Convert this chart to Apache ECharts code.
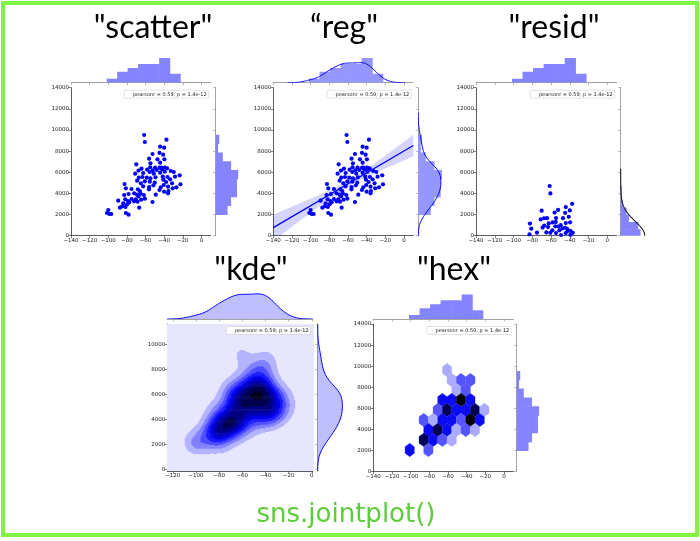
<!DOCTYPE html>
<html>
<head>
<meta charset="utf-8">
<script src="https://cdn.jsdelivr.net/npm/echarts@6.0.0/dist/echarts.min.js"></script>
<style>html,body{margin:0;padding:0;background:#fff;}#chart{width:700px;height:541px;}</style>
</head>
<body>
<div id="chart"></div>
<script>
// ---------------- data ----------------
const titles = ['"scatter"', '\u201creg"', '"resid"', '"kde"', '"hex"'];
const footerText = 'sns.jointplot()';
const statText = 'pearsonr = 0.59; p = 1.4e-12';

const xs = [-61.5,-60.7,-37.5,-44.3,-40.0,-45.0,-52.5,-41.1,-56.2,-47.2,
  -39.7,-44.3,-70.0,-54.7,-55.0,-49.7,-44.9,-42.9,-39.3,-36.8,
  -64.3,-67.5,-58.3,-52.2,-47.9,-42.2,-32.9,-29.7,-71.1,-62.5,
  -55.4,-51.1,-44.3,-39.3,-28.3,-23.3,-67.2,-63.2,-58.6,-54.7,
  -49.3,-41.5,-36.5,-33.6,-69.0,-60.7,-55.4,-50.0,-40.8,-37.9,
  -31.5,-22.5,-82.5,-65.0,-62.5,-56.1,-51.5,-43.6,-40.4,-35.8,
  -26.8,-81.1,-75.0,-68.2,-66.1,-56.3,-45.0,-40.0,-35.4,-30.8,
  -78.2,-72.2,-69.0,-65.4,-61.8,-49.0,-35.8,-82.9,-89.3,-81.8,
  -78.8,-75.0,-70.4,-67.5,-64.7,-60.7,-83.9,-79.7,-77.5,-72.2,
  -68.6,-52.5,-87.5,-85.0,-81.5,-66.8,-100.0,-101.4,-98.9,-96.8,
  -81.1,-78.2];
const ys = [9525,8863,9084,8422,8327,7840,7728,7665,7286,7223,
  7223,6908,6750,6845,6467,6435,6435,6435,6435,6372,
  6341,6165,6246,6170,6214,6278,6120,6025,5868,5931,
  6025,5868,5962,6057,5584,5710,5489,5552,5489,5426,
  5521,5584,5552,5332,5205,5142,5111,5016,5300,5079,
  4953,4859,4890,4953,4669,4606,4764,4575,4796,4638,
  4575,4480,4417,4386,4228,4386,4323,4165,4228,4480,
  3944,4007,3881,3976,3850,3881,4007,3850,3314,3440,
  3282,3471,3440,3724,3408,3503,3061,2967,3156,3251,
  3219,3188,2652,2778,2715,2652,2431,2147,2052,2052,
  2147,1989];

const xTicks = [-140,-120,-100,-80,-60,-40,-20,0];
const yTicks = [0,2000,4000,6000,8000,10000,12000,14000];
const kdeXTicks = [-120,-100,-80,-60,-40,-20,0];
const kdeYTicks = [0,2000,4000,6000,8000,10000];
const xRange = [-140, 10];
const yRange = [0, 14000];
const xBinCount = 7;
const yBinCount = 9;

// hexbin cells (centre x, centre y, count)
const hexX = [-61, -56,-46,-36, -51,-41, -66,-56,-46,-36, -71,-61,-51,-41,-31,-21,
  -86,-76,-66,-56,-46,-36,-26, -81,-71,-61,-51,-41,-31, -86,-76,-66,-56, -101,-81];
const hexY = [9640, 8690,8690,8690, 7745,7745, 6800,6800,6800,6800, 5850,5850,5850,5850,5850,5850,
  4900,4900,4900,4900,4900,4900,4900, 3955,3955,3955,3955,3955,3955, 3010,3010,3010,3010, 2060,2060];
const hexCount = [2, 2,3,3, 2,3, 4,4,7,4, 3,6,4,4,6,2,
  3,2,4,4,3,7,4, 4,6,4,2,3,2, 6,4,3,2, 4,3];
const hexCountMin = 1, hexCountMax = 7;
const hexSx = 10, hexSy = 1894;

// ---------------- helpers ----------------
const n = xs.length;
const mean = a => a.reduce((s, v) => s + v, 0) / a.length;
const sd = (a, ddof = 1) => { const m = mean(a); return Math.sqrt(a.reduce((s, v) => s + (v - m) ** 2, 0) / (a.length - ddof)); };
const quantile = (a, q) => { const s = [...a].sort((p, r) => p - r); const pos = (s.length - 1) * q; const lo = Math.floor(pos), hi = Math.ceil(pos); return s[lo] + (s[hi] - s[lo]) * (pos - lo); };
const scottBw = a => 1.059 * Math.min(sd(a), (quantile(a, .75) - quantile(a, .25)) / 1.349) * Math.pow(a.length, -0.2);
const linspace = (a, b, k) => Array.from({length: k}, (_, i) => a + (b - a) * i / (k - 1));
const kde1 = (a, bw, grid) => grid.map(g => a.reduce((s, v) => s + Math.exp(-0.5 * ((g - v) / bw) ** 2), 0) / (a.length * bw * Math.sqrt(2 * Math.PI)));
function histogram(a, nb) {
  const lo = Math.min(...a), hi = Math.max(...a), w = (hi - lo) / nb;
  const c = new Array(nb).fill(0);
  a.forEach(v => { let k = Math.floor((v - lo) / w); if (k >= nb) k = nb - 1; c[k]++; });
  return c.map((cnt, i) => ({lo: lo + i * w, hi: lo + (i + 1) * w, count: cnt, dens: cnt / (a.length * w)}));
}
const fdBins = a => { const h = 2 * (quantile(a, .75) - quantile(a, .25)) / Math.cbrt(a.length); return Math.max(1, Math.ceil((Math.max(...a) - Math.min(...a)) / h)); };
function hslBlue(l) { return l >= 0.5 ? [2 * l - 1, 2 * l - 1, 1] : [0, 0, 2 * l]; }
const palette = Array.from({length: 12}, (_, k) => hslBlue(1 - k / 11));
function cmap(t) {
  t = Math.max(0, Math.min(1, t));
  const pos = t * 11, k = Math.min(10, Math.floor(pos)), f = pos - k;
  const a = palette[k], b = palette[k + 1];
  const c = a.map((v, i) => Math.round(255 * (v + (b[i] - v) * f)));
  return 'rgb(' + c.join(',') + ')';
}
function maxNLevels(vmin, vmax, nbins) {
  const raw = (vmax - vmin) / nbins;
  const mag = Math.pow(10, Math.floor(Math.log10(raw)));
  for (const s of [1, 2, 2.5, 5, 10, 20]) {
    const step = s * mag;
    const lo = Math.floor(vmin / step) * step, hi = Math.ceil(vmax / step) * step;
    if ((hi - lo) / step <= nbins + 1e-9) {
      const out = [];
      for (let v = lo; v <= hi + step * 1e-6; v += step) out.push(v);
      return out;
    }
  }
}

// ---------------- derived statistics ----------------
const xHist = histogram(xs, xBinCount);
const yHist = histogram(ys, yBinCount);
const bwx = scottBw(xs), bwy = scottBw(ys);
const kx0 = Math.min(...xs) - 3 * bwx, kx1 = Math.max(...xs) + 3 * bwx;
const ky0 = Math.min(...ys) - 3 * bwy, ky1 = Math.max(...ys) + 3 * bwy;
const kdeXGrid = linspace(kx0, kx1, 100), kdeYGrid = linspace(ky0, ky1, 100);
const kdeXVals = kde1(xs, bwx, kdeXGrid), kdeYVals = kde1(ys, bwy, kdeYGrid);

// regression
const mx = mean(xs), my = mean(ys);
let sxx = 0, sxy = 0;
xs.forEach((x, i) => { sxx += (x - mx) ** 2; sxy += (x - mx) * (ys[i] - my); });
const slope = sxy / sxx, icpt = my - slope * mx;
const resid = ys.map((y, i) => y - (icpt + slope * xs[i]));
const sres = Math.sqrt(resid.reduce((s, r) => s + r * r, 0) / (n - 2));
const regGrid = linspace(xRange[0], xRange[1], 100);
const regUpper = regGrid.map(x => [x, icpt + slope * x + 1.984 * sres * Math.sqrt(1 / n + (x - mx) ** 2 / sxx)]);
const regLower = regGrid.map(x => [x, icpt + slope * x - 1.984 * sres * Math.sqrt(1 / n + (x - mx) ** 2 / sxx)]);

// residual marginal
const rHist = histogram(resid, fdBins(resid));
const rMu = mean(resid), rSig = sd(resid, 0), rBw = scottBw(resid);
const rGrid = linspace(Math.min(...resid) - 3 * rBw, Math.max(...resid) + 3 * rBw, 100);
const rFit = rGrid.map(v => Math.exp(-0.5 * ((v - rMu) / rSig) ** 2) / (rSig * Math.sqrt(2 * Math.PI)));

// bivariate kde
const G = 160;
const gxv = linspace(kx0, kx1, G), gyv = linspace(ky0, ky1, G);
const KX = gxv.map(g => xs.map(v => Math.exp(-0.5 * ((g - v) / bwx) ** 2)));
const KY = gyv.map(g => ys.map(v => Math.exp(-0.5 * ((g - v) / bwy) ** 2)));
const znorm = 1 / (n * 2 * Math.PI * bwx * bwy);
const Z = gyv.map((_, j) => gxv.map((_, i) => { let s = 0; for (let k = 0; k < n; k++) s += KX[i][k] * KY[j][k]; return s * znorm; }));
let zmin = Infinity, zmax = -Infinity;
Z.forEach(r => r.forEach(v => { if (v < zmin) zmin = v; if (v > zmax) zmax = v; }));
const levels = maxNLevels(zmin, zmax, 11);
const L0 = levels[0], LN = levels[levels.length - 1];
const bandColors = levels.slice(0, -1).map((v, k) => cmap(((v + levels[k + 1]) / 2 - L0) / (LN - L0)));
const bandOf = z => { let k = 0; while (k < levels.length - 2 && z >= levels[k + 1]) k++; return k; };
const dxg = (kx1 - kx0) / (G - 1), dyg = (ky1 - ky0) / (G - 1);
const kdeCells = [[kx0 - dxg, kx1 + dxg, ky0 - dyg, ky1 + dyg, 0]];
for (let j = 0; j < G; j++) {
  let i = 0;
  while (i < G) {
    const b = bandOf(Z[j][i]); let e = i;
    while (e + 1 < G && bandOf(Z[j][e + 1]) === b) e++;
    if (b > 0) kdeCells.push([gxv[i] - dxg / 2, gxv[e] + dxg / 2, gyv[j] - dyg / 2, gyv[j] + dyg / 2, b]);
    i = e + 1;
  }
}

// ---------------- layout ----------------
const panels = [
  {main: [71, 87.7, 139.7, 148], top: [71, 53.1, 139.7, 29.6], right: [215.7, 87.7, 29.6, 148]},
  {main: [273.3, 87.7, 140, 148], top: [273.3, 53.1, 140, 29.6], right: [418.3, 87.7, 29.6, 148]},
  {main: [476, 87.7, 140.7, 148], top: [476, 53.1, 140.7, 29.6], right: [620.7, 87.7, 29.6, 148]},
  {main: [167.3, 324, 145.4, 147], top: [167.3, 289.6, 145.4, 29.4], right: [317.7, 324, 29.4, 147]},
  {main: [373.3, 324, 140, 147.7], top: [373.3, 289.5, 140, 29.5], right: [516.7, 324, 29.5, 147.7]}
];
const titlePos = [[153, 28], [344, 28], [554, 28], [251, 270], [454, 270]];

const grid = [], xAxis = [], yAxis = [];
panels.forEach(p => [p.main, p.top, p.right].forEach(([l, t, w, h]) => grid.push({left: l, top: t, width: w, height: h, containLabel: false})));

const MAINC = '#333', MARGC = '#8c8c8c';
const fmt = v => String(Math.round(v)).replace('-', '\u2212');
const lab = {fontSize: 5.5, color: '#222', margin: 2, fontFamily: 'DejaVu Sans', formatter: fmt};
function mainAxis(gi, min, max, ticks) {
  return {type: 'value', gridIndex: gi, min, max, splitLine: {show: false},
    axisLine: {show: true, onZero: false, lineStyle: {color: MAINC, width: 0.8}},
    axisTick: {show: true, length: 2.5, customValues: ticks, lineStyle: {color: MAINC, width: 0.6}},
    axisLabel: Object.assign({customValues: ticks}, lab)};
}
function margAxis(gi, min, max, ticks) {
  return {type: 'value', gridIndex: gi, min, max, splitLine: {show: false},
    axisLine: {show: true, onZero: false, lineStyle: {color: MARGC, width: 0.8}},
    axisTick: {show: true, length: 2.5, customValues: ticks, lineStyle: {color: MARGC, width: 0.6}},
    axisLabel: {show: false}};
}
const hidden = (gi, min, max) => ({type: 'value', gridIndex: gi, min, max, show: false, splitLine: {show: false}});

const countTopMax = Math.ceil(Math.max(...xHist.map(b => b.count)) * 1.2 / 5) * 5;
const countRightMax = Math.ceil(Math.max(...yHist.map(b => b.count)) * 1.2 / 5) * 5;
const regTopMax = Math.max(...xHist.map(b => b.dens), ...kdeXVals) * 1.2;
const regRightMax = Math.max(...yHist.map(b => b.dens), ...kdeYVals) * 1.25;
const residRightMax = Math.max(...rHist.map(b => b.dens), ...rFit) * 1.15;
const kdeTopMax = Math.max(...kdeXVals) * 1.17;
const kdeRightMax = Math.max(...kdeYVals) * 1.19;

const ranges = [
  {x: xRange, y: yRange, xt: xTicks, yt: yTicks, topMax: countTopMax, rightMax: countRightMax},
  {x: xRange, y: yRange, xt: xTicks, yt: yTicks, topMax: regTopMax, rightMax: regRightMax},
  {x: xRange, y: yRange, xt: xTicks, yt: yTicks, topMax: countTopMax, rightMax: residRightMax},
  {x: [kx0, kx1], y: [ky0, ky1], xt: kdeXTicks, yt: kdeYTicks, topMax: kdeTopMax, rightMax: kdeRightMax},
  {x: xRange, y: yRange, xt: xTicks, yt: yTicks, topMax: countTopMax, rightMax: countRightMax}
];
ranges.forEach((r, p) => {
  const g = p * 3;
  xAxis.push(mainAxis(g, r.x[0], r.x[1], r.xt)); yAxis.push(mainAxis(g, r.y[0], r.y[1], r.yt));
  xAxis.push(margAxis(g + 1, r.x[0], r.x[1], r.xt)); yAxis.push(hidden(g + 1, 0, r.topMax));
  xAxis.push(hidden(g + 2, 0, r.rightMax)); yAxis.push(margAxis(g + 2, r.y[0], r.y[1], r.yt));
});

// ---------------- series builders ----------------
const BLUE = '#0000ff';
const HISTC = 'rgb(132,132,255)';
const HISTD = 'rgb(150,150,255)';
function barsTop(gi, bins, key, color) {
  return {type: 'custom', xAxisIndex: gi, yAxisIndex: gi, clip: true, silent: true, z: 2,
    data: bins.map(b => [b.lo, b.hi, b[key]]), encode: {x: [0, 1], y: 2},
    renderItem: (p, api) => {
      const a = api.coord([api.value(0), api.value(2)]), b = api.coord([api.value(1), 0]);
      return {type: 'rect', shape: {x: a[0] - 0.3, y: a[1], width: b[0] - a[0] + 0.6, height: b[1] - a[1]}, style: {fill: color}};
    }};
}
function barsRight(gi, bins, key, color) {
  return {type: 'custom', xAxisIndex: gi, yAxisIndex: gi, clip: true, silent: true, z: 2,
    data: bins.map(b => [b.lo, b.hi, b[key]]), encode: {x: 2, y: [0, 1]},
    renderItem: (p, api) => {
      const a = api.coord([0, api.value(1)]), b = api.coord([api.value(2), api.value(0)]);
      return {type: 'rect', shape: {x: a[0], y: a[1] - 0.3, width: b[0] - a[0], height: b[1] - a[1] + 0.6}, style: {fill: color}};
    }};
}
function curve(gi, pts, fill, stroke, lw, base) {
  return {type: 'custom', xAxisIndex: gi, yAxisIndex: gi, clip: true, silent: true, z: 3,
    data: pts, encode: {x: 0, y: 1},
    renderItem: (p, api) => {
      if (p.dataIndex !== 0) return null;
      const c = pts.map(q => api.coord(q));
      const children = [];
      if (fill) {
        const first = pts[0], last = pts[pts.length - 1];
        const poly = base === 'x'
          ? [api.coord([first[0], 0]), ...c, api.coord([last[0], 0])]
          : [api.coord([0, first[1]]), ...c, api.coord([0, last[1]])];
        children.push({type: 'polygon', shape: {points: poly}, style: {fill: fill}});
      }
      if (stroke) children.push({type: 'polyline', shape: {points: c}, style: {stroke: stroke, lineWidth: lw, fill: null}});
      return {type: 'group', children};
    }};
}
const scatterS = (gi, data) => ({type: 'scatter', xAxisIndex: gi, yAxisIndex: gi, data, symbolSize: 4.2, clip: true, silent: true, z: 4,
  itemStyle: {color: BLUE, opacity: 1}});
const pts = xs.map((x, i) => [x, ys[i]]);

const series = [];
// 1 scatter
series.push(scatterS(0, pts), barsTop(1, xHist, 'count', HISTC), barsRight(2, yHist, 'count', HISTC));
// 2 reg
series.push({type: 'custom', xAxisIndex: 3, yAxisIndex: 3, clip: true, silent: true, z: 2, data: regUpper, encode: {x: 0, y: 1},
  renderItem: (p, api) => {
    if (p.dataIndex !== 0) return null;
    const poly = [...regUpper.map(q => api.coord(q)), ...regLower.slice().reverse().map(q => api.coord(q))];
    return {type: 'polygon', shape: {points: poly}, style: {fill: 'rgba(0,0,255,0.17)'}};
  }});
series.push(scatterS(3, pts));
series.push({type: 'line', xAxisIndex: 3, yAxisIndex: 3, data: [[xRange[0], icpt + slope * xRange[0]], [xRange[1], icpt + slope * xRange[1]]],
  showSymbol: false, symbol: 'none', silent: true, z: 5, lineStyle: {color: BLUE, width: 1.2}});
series.push(barsTop(4, xHist, 'dens', HISTD), curve(4, kdeXGrid.map((x, i) => [x, kdeXVals[i]]), null, BLUE, 1, 'x'));
series.push(barsRight(5, yHist, 'dens', HISTD), curve(5, kdeYGrid.map((y, i) => [kdeYVals[i], y]), null, BLUE, 1, 'y'));
// 3 resid
series.push(scatterS(6, xs.map((x, i) => [x, resid[i]])));
series.push(barsTop(7, xHist, 'count', HISTC));
series.push(barsRight(8, rHist, 'dens', HISTC), curve(8, rGrid.map((y, i) => [rFit[i], y]), null, '#222', 1.1, 'y'));
// 4 kde
series.push({type: 'custom', xAxisIndex: 9, yAxisIndex: 9, clip: true, silent: true, z: 2, data: kdeCells, encode: {x: [0, 1], y: [2, 3]},
  renderItem: (p, api) => {
    const a = api.coord([api.value(0), api.value(3)]), b = api.coord([api.value(1), api.value(2)]);
    return {type: 'rect', shape: {x: a[0] - 0.3, y: a[1] - 0.3, width: b[0] - a[0] + 0.6, height: b[1] - a[1] + 0.6},
      style: {fill: bandColors[api.value(4)]}};
  }});
series.push(curve(10, kdeXGrid.map((x, i) => [x, kdeXVals[i]]), 'rgba(0,0,255,0.25)', BLUE, 1, 'x'));
series.push(curve(11, kdeYGrid.map((y, i) => [kdeYVals[i], y]), 'rgba(0,0,255,0.25)', BLUE, 1, 'y'));
// 5 hex
series.push({type: 'custom', xAxisIndex: 12, yAxisIndex: 12, clip: true, silent: true, z: 2,
  data: hexX.map((x, i) => [x, hexY[i], hexCount[i]]), encode: {x: 0, y: 1},
  renderItem: (p, api) => {
    const cx = api.value(0), cy = api.value(1), c = api.value(2);
    const off = [[.5, -.5], [.5, .5], [0, 1], [-.5, .5], [-.5, -.5], [0, -1]];
    const poly = off.map(([ox, oy]) => api.coord([cx + ox * hexSx, cy + oy * hexSy / 3]));
    const col = cmap((c - hexCountMin) / (hexCountMax - hexCountMin));
    return {type: 'polygon', shape: {points: poly}, style: {fill: col, stroke: col, lineWidth: 0.3}};
  }});
series.push(barsTop(13, xHist, 'count', HISTC), barsRight(14, yHist, 'count', HISTC));

// ---------------- graphics ----------------
const graphic = [];
graphic.push({type: 'rect', z: 100, shape: {x: 3, y: 3, width: 694, height: 532}, style: {fill: null, stroke: '#7ef542', lineWidth: 4}});
titles.forEach((t, i) => graphic.push({type: 'text', z: 100, x: titlePos[i][0], y: titlePos[i][1],
  style: {text: t, fontSize: 32, fontFamily: 'Lato', fill: '#000', align: 'center', verticalAlign: 'middle'}}));
graphic.push({type: 'text', z: 100, x: 346, y: 515, style: {text: footerText, fontSize: 26, fontFamily: 'DejaVu Sans', fill: '#5ccc38', align: 'center', verticalAlign: 'middle'}});
panels.forEach(p => {
  const [l, t, w] = p.main;
  graphic.push({type: 'rect', z: 50, shape: {x: l + w - 86.5, y: t + 2.5, width: 84.5, height: 8, r: 1},
    style: {fill: 'rgba(255,255,255,0.85)', stroke: '#cfcfcf', lineWidth: 0.6}});
  graphic.push({type: 'text', z: 51, x: l + w - 4, y: t + 6.6,
    style: {text: statText, fontSize: 5, fontFamily: 'DejaVu Sans', fill: '#222', align: 'right', verticalAlign: 'middle'}});
});

const chart = echarts.init(document.getElementById('chart'), null, {renderer: 'canvas'});
chart.setOption({animation: false, backgroundColor: '#fff', grid, xAxis, yAxis, series, graphic});
</script>
</body>
</html>
